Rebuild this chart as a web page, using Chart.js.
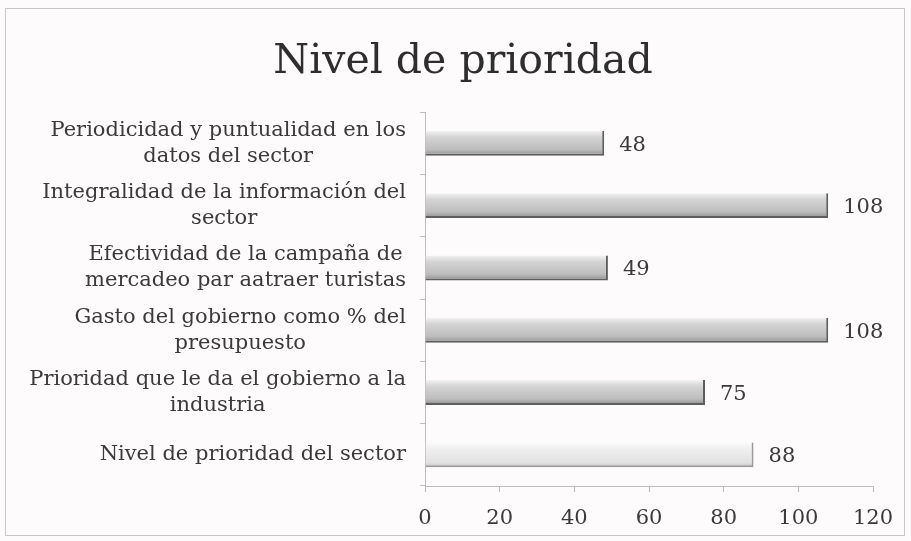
<!DOCTYPE html>
<html>
<head>
<meta charset="utf-8">
<script src="https://cdn.jsdelivr.net/npm/chart.js@4"></script>
<style>
  body { margin: 0; background: #fdfbfb; }
  #wrap { position: relative; width: 911px; height: 541px; }
  #frame { position: absolute; left: 5px; top: 8px; width: 898px; height: 526px; border: 1px solid #c9c6c6; }
</style>
</head>
<body>
<div id="wrap">
  <div id="frame"></div>
  <canvas id="myChart" width="911" height="541"></canvas>
</div>
<script>
// categories, top to bottom
var categories = [
  ['Periodicidad y puntualidad en los', 'datos del sector'],
  ['Integralidad de la información del', 'sector'],
  ['Efectividad de la campaña de', 'mercadeo par aatraer turistas'],
  ['Gasto del gobierno como % del', 'presupuesto'],
  ['Prioridad que le da el gobierno a la', 'industria'],
  'Nivel de prioridad del sector'
];
// values per category
var values = [48, 108, 49, 108, 75, 88];
// x axis ticks
var xMin = 0, xMax = 120, xStep = 20;

var serif = '"DejaVu Serif", "Liberation Serif", serif';
var textColor = '#3a3a3a';

// grey cylinder look, last bar lighter
function barFill(ctx) {
  var chart = ctx.chart;
  var y = chart.scales.y;
  if (!y || y.top === undefined) return '#c4c4c4';
  var band = (y.bottom - y.top) / categories.length;
  var c = y.getPixelForValue(ctx.dataIndex);
  var g = chart.ctx.createLinearGradient(0, c - band * 0.2, 0, c + band * 0.2);
  if (ctx.dataIndex === categories.length - 1) {
    g.addColorStop(0, '#fbfbfb');
    g.addColorStop(0.3, '#eeeeee');
    g.addColorStop(0.8, '#e2e2e2');
    g.addColorStop(1, '#c4c4c4');
  } else {
    g.addColorStop(0, '#f2f2f2');
    g.addColorStop(0.25, '#d4d4d4');
    g.addColorStop(0.75, '#bdbdbd');
    g.addColorStop(0.92, '#9c9c9c');
    g.addColorStop(1, '#6c6c6c');
  }
  return g;
}

// value labels at bar ends + centred multi-line category labels
var textLabels = {
  id: 'textLabels',
  afterDatasetsDraw: function(chart) {
    var c = chart.ctx;
    var meta = chart.getDatasetMeta(0);
    var yScale = chart.scales.y;
    c.save();
    c.font = '21px ' + serif;
    c.fillStyle = textColor;
    c.textBaseline = 'middle';
    c.textAlign = 'left';
    meta.data.forEach(function(bar, i) {
      c.fillText(values[i], bar.x + 15, bar.y + 2);
    });

    c.textAlign = 'center';
    c.font = '21px ' + serif;
    var right = yScale.right - 19;
    var lineH = 26;
    categories.forEach(function(lab, i) {
      var lines = Array.isArray(lab) ? lab : [lab];
      var w = 0;
      lines.forEach(function(l) { w = Math.max(w, c.measureText(l).width); });
      var cx = right - w / 2;
      var cy = yScale.getPixelForTick(i);
      var y0 = cy - (lines.length - 1) * lineH / 2;
      lines.forEach(function(l, k) { c.fillText(l, cx, y0 + k * lineH); });
    });
    c.restore();
  }
};

var ctx = document.getElementById('myChart').getContext('2d');
var myChart = new Chart(ctx, {
  type: 'bar',
  data: {
    labels: categories,
    datasets: [{
      data: values,
      backgroundColor: barFill,
      borderColor: function(ctx) { return ctx.dataIndex === categories.length - 1 ? '#9a9a9a' : '#5e5e5e'; },
      borderWidth: { top: 0, right: 2, bottom: 2, left: 0 },
      borderSkipped: false,
      categoryPercentage: 0.8,
      barPercentage: 0.5
    }]
  },
  options: {
    indexAxis: 'y',
    responsive: false,
    animation: false,
    layout: { padding: { top: 14, right: 38, left: 53, bottom: 10 } },
    plugins: {
      legend: { display: false },
      tooltip: { enabled: false },
      title: {
        display: true,
        text: 'Nivel de prioridad',
        color: '#2e2e2e',
        font: { family: serif, size: 41, weight: 'normal', lineHeight: 1.2 },
        padding: { top: 24, bottom: 25 }
      }
    },
    scales: {
      x: {
        min: xMin,
        max: xMax,
        ticks: { stepSize: xStep, color: textColor, font: { family: serif, size: 21 }, padding: 14 },
        grid: { drawOnChartArea: false, color: '#bdbdbd', tickLength: 6 },
        border: { color: '#bdbdbd' },
        afterFit: function(scale) { scale.height = 45; }
      },
      y: {
        ticks: { display: false },
        grid: { drawOnChartArea: false, color: '#bdbdbd', tickLength: 5 },
        border: { color: '#bdbdbd' },
        afterFit: function(scale) { scale.width = 372; }
      }
    }
  },
  plugins: [textLabels]
});
</script>
</body>
</html>
